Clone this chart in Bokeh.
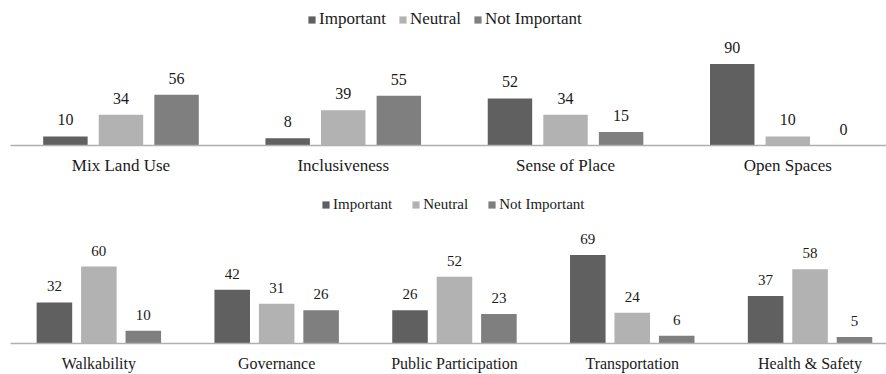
from bokeh.plotting import figure
from bokeh.models import ColumnDataSource, Range1d, FixedTicker, LabelSet
from bokeh.layouts import column
from bokeh.transform import dodge
from bokeh.core.properties import value
from bokeh.embed import file_html
from bokeh.resources import INLINE

series = ["Important", "Neutral", "Not Important"]
colors = ["#606060", "#b2b2b2", "#7f7f7f"]

top_categories = ["Mix Land Use", "Inclusiveness", "Sense of Place", "Open Spaces"]
top_important = [10, 8, 52, 90]
top_neutral = [34, 39, 34, 10]
top_not_important = [56, 55, 15, 0]

bottom_categories = ["Walkability", "Governance", "Public Participation", "Transportation", "Health & Safety"]
bottom_important = [32, 42, 26, 69, 37]
bottom_neutral = [60, 31, 52, 24, 58]
bottom_not_important = [10, 26, 23, 6, 5]

FONT = "Liberation Serif"
TEXT = "#1a1a1a"


def panel(categories, vals, height, x_end, y_end, border_bottom, cat_size, val_size,
          leg_size, leg_loc, standoff, leg_spacing):
    n = len(categories)
    data = dict(x=list(range(n)))
    keys = ["imp", "neu", "not"]
    for k, v in zip(keys, vals):
        data[k] = v
    src = ColumnDataSource(data)
    p = figure(width=886, height=height, x_range=Range1d(-0.497, x_end),
               y_range=Range1d(0, y_end), output_backend="svg", toolbar_location=None,
               y_axis_location=None, min_border_left=10, min_border_right=0,
               min_border_top=0, min_border_bottom=border_bottom)
    offsets = [-0.25, 0.0, 0.25]
    for k, off, col, name in zip(keys, offsets, colors, series):
        p.vbar(x=dodge("x", off, range=p.x_range), top=k, width=0.2, source=src,
               fill_color=col, line_color=None, legend_label=name)
        lab = LabelSet(x=dodge("x", off, range=p.x_range), y=k, text=k, source=src,
                       text_align="center", text_baseline="alphabetic", y_offset=11,
                       text_font=value(FONT), text_font_size=value(val_size),
                       text_color=TEXT)
        p.add_layout(lab)
    p.xgrid.visible = False
    p.ygrid.visible = False
    p.outline_line_color = None
    ax = p.xaxis[0]
    ax.ticker = FixedTicker(ticks=list(range(n)))
    ax.major_label_overrides = {i: c for i, c in enumerate(categories)}
    ax.major_tick_line_color = None
    ax.minor_tick_line_color = None
    ax.axis_line_color = "#b0b0b0"
    ax.axis_line_width = 1.5
    ax.major_label_text_font = FONT
    ax.major_label_text_font_size = cat_size
    ax.major_label_text_color = TEXT
    ax.major_label_standoff = standoff
    lg = p.legend[0]
    lg.orientation = "horizontal"
    lg.location = leg_loc
    lg.glyph_width = 9
    lg.glyph_height = 9
    lg.label_height = 10
    lg.label_standoff = 3
    lg.spacing = leg_spacing
    lg.padding = 0
    lg.margin = 0
    lg.border_line_alpha = 0
    lg.background_fill_alpha = 0
    lg.label_text_font = FONT
    lg.label_text_font_size = leg_size
    lg.label_text_color = TEXT
    return p


p1 = panel(top_categories, [top_important, top_neutral, top_not_important], 187,
           3.444, 160, 42, "17px", "16px", "17px", (297, 116), 4, 12)
p2 = panel(bottom_categories, [bottom_important, bottom_neutral, bottom_not_important], 187,
           4.43, 121.7, 30, "16px", "15px", "15px", (311, 130), 5, 19)

layout = column(p1, p2, spacing=0)
open("out.html", "w").write(file_html(layout, INLINE))
